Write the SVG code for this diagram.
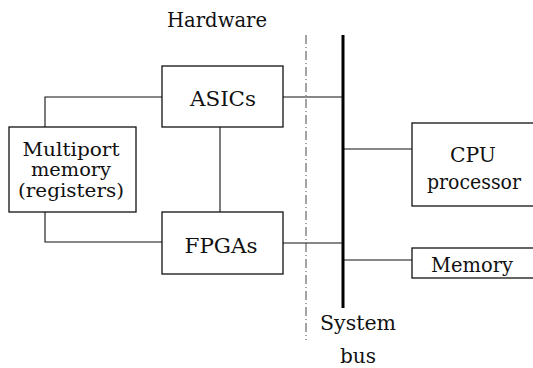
<svg xmlns="http://www.w3.org/2000/svg" width="533" height="368" viewBox="0 0 533 368">
<style>
.box{fill:#fff;stroke:#111;stroke-width:1.3}
.ln{fill:none;stroke:#111;stroke-width:1.1}
text{font-family:"DejaVu Serif","Liberation Serif",serif;font-size:20px;fill:#111;text-anchor:middle}
.s{font-size:19px}
</style>
<rect width="533" height="368" fill="#fff"/>
<g id="connectors">
<polyline class="ln" points="45,127 45,97 162,97"/>
<polyline class="ln" points="45,212 45,242 162,242"/>
<line class="ln" x1="220" y1="127" x2="220" y2="212"/>
<line class="ln" x1="283" y1="97" x2="343" y2="97"/>
<line class="ln" x1="283" y1="243" x2="343" y2="243"/>
<line class="ln" x1="343" y1="149" x2="412" y2="149"/>
<line class="ln" x1="343" y1="260" x2="412" y2="260"/>
<line x1="306" y1="35" x2="306" y2="340" stroke="#333" stroke-width="0.9" stroke-dasharray="9 3 1 3"/>
</g>
<g id="system-bus">
<line x1="343" y1="35" x2="343" y2="308" stroke="#000" stroke-width="3"/>
<text x="358" y="330" textLength="76" lengthAdjust="spacingAndGlyphs">System</text>
<text x="358" y="363" textLength="36" lengthAdjust="spacingAndGlyphs">bus</text>
</g>
<g id="hardware-label">
<text x="217" y="27" textLength="100" lengthAdjust="spacingAndGlyphs">Hardware</text>
</g>
<g id="asics">
<rect class="box" x="162" y="66" width="121" height="61"/>
<text x="223" y="106" textLength="66" lengthAdjust="spacingAndGlyphs">ASICs</text>
</g>
<g id="fpgas">
<rect class="box" x="162" y="212" width="121" height="62"/>
<text x="221" y="253" textLength="73" lengthAdjust="spacingAndGlyphs">FPGAs</text>
</g>
<g id="multiport">
<rect class="box" x="9" y="127" width="127" height="85"/>
<text class="s" x="71" y="156" textLength="97" lengthAdjust="spacingAndGlyphs">Multiport</text>
<text class="s" x="71" y="176" textLength="80" lengthAdjust="spacingAndGlyphs">memory</text>
<text class="s" x="71" y="197" textLength="106" lengthAdjust="spacingAndGlyphs">(registers)</text>
</g>
<g id="cpu">
<rect class="box" x="412" y="123" width="130" height="83"/>
<text x="473" y="162" textLength="46" lengthAdjust="spacingAndGlyphs">CPU</text>
<text x="474" y="189" textLength="94" lengthAdjust="spacingAndGlyphs">processor</text>
</g>
<g id="memory">
<rect class="box" x="412" y="248" width="130" height="30"/>
<text x="472" y="272" textLength="82" lengthAdjust="spacingAndGlyphs">Memory</text>
</g>
</svg>
